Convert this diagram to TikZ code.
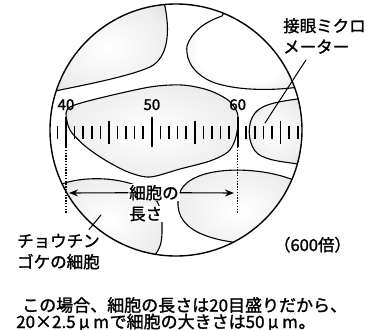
\documentclass[tikz,border=0pt]{standalone}
\usepackage{fontspec}
\setmainfont{Noto Sans CJK JP}[FakeBold=1.5]
\usetikzlibrary{arrows.meta}
\pgfdeclareradialshading{glowA}{\pgfpointorigin}{color(0bp)=(white); color(25bp)=(black!7); color(50bp)=(black!26)}
\pgfdeclareradialshading{glowB}{\pgfpointorigin}{color(0bp)=(white); color(20bp)=(white); color(50bp)=(black!26)}
\tikzset{
  rim/.style={line width=1.4pt},
  wall/.style={draw, line width=1.1pt, shading=glowA},
  tick/.style={line width=1.6pt, line cap=butt},
  guide/.style={line width=1.1pt, dash pattern=on 1.3pt off 1.5pt, line cap=butt},
  lbl/.style={inner sep=0pt, anchor=base west, font=\fontsize{16.5}{20}\selectfont},
  num/.style={inner sep=0pt, anchor=base, font=\fontsize{15}{18}\selectfont},
}
\newcommand{\fw}[1]{\makebox[1em][c]{#1}}

\begin{document}
\begin{tikzpicture}[x=1pt,y=-1pt,line join=round,line cap=round,>={Stealth[length=9pt,width=7pt]}]
\useasboundingbox (0,0) rectangle (376,330);
\def\cx{176}
\def\cy{130}
\def\rr{126pt}
\def\dx{8.585}% one division of the scale
\coordinate (O) at (\cx,\cy);
\begin{scope}
\clip (O) circle (\rr);
% cells in the field of view
\draw[wall] (45,93) .. controls (90,84) and (130,76) .. (150,67) .. controls (168,58) and (171,32) .. (164,2) -- (45,2) -- cycle;
\draw[wall, shading=glowB] (228,6) -- (222,16) .. controls (205,22) and (192,31) .. (187,46) .. controls (185,62) and (196,76) .. (215,83) .. controls (240,91) and (275,91) .. (306,86) -- (306,6) -- cycle;
\draw[wall] plot[smooth cycle] coordinates {(66,113) (72,106) (100,98) (150,87) (182,85) (208,90) (228,100) (237,112) (238,125) (235,140) (228,152) (210,161) (180,169) (150,177) (128,172) (105,160) (85,146) (70,130)};
\draw[wall] (306,98) .. controls (280,101) and (262,104) .. (255,113) .. controls (246,124) and (248,146) .. (258,154) .. controls (268,161) and (285,162) .. (306,165) -- cycle;
\draw[wall] (55,186) -- (65,183) .. controls (80,178) and (105,177) .. (125,182) .. controls (150,188) and (162,200) .. (162,222) .. controls (162,235) and (163,245) .. (155,255) -- (150,264) -- (55,264) -- cycle;
\draw[wall] (300,182) -- (288,178) .. controls (265,170) and (230,167) .. (205,174) .. controls (185,180) and (177,190) .. (178,205) .. controls (179,222) and (192,236) .. (232,242) -- (250,254) -- (300,232) -- cycle;
% micrometer scale
\foreach \n in {39,...,67}{
  \pgfmathsetmacro{\tx}{66+(\n-40)*\dx}
  \pgfmathsetmacro{\h}{ifthenelse(mod(\n,10)==0,15,ifthenelse(mod(\n,5)==0,11.5,6.5))}
  \draw[tick] (\tx,132-\h) -- (\tx,132+\h);
}
\end{scope}
\draw[rim] (O) circle (\rr);
\foreach \n in {40,50,60}{
  \node[num] (m\n) at ({66+(\n-40)*\dx},110) {\n};
}
\coordinate (top40) at (66,147);
\coordinate (bot40) at (66,213);
\coordinate (top60) at ({66+20*\dx},147);
\coordinate (bot60) at ({66+20*\dx},213);
\draw[guide] (top40) -- (bot40);
\draw[guide] (top60) -- (bot60);
% length of the cell
\node[lbl, fill=white, inner sep=1pt] (lenA) at (128,199) {細胞の};
\node[lbl, fill=white, inner sep=1pt] (lenB) at (128,220) {長さ};
\coordinate (tip40) at (69,193);
\coordinate (tip60) at (234,193);
\draw[->, line width=1.1pt] (lenA.west) -- (tip40);
\draw[->, line width=1.1pt] (lenA.east) -- (tip60);
% labels
\node[lbl] (eyeA) at (283,32) {接眼ミクロ};
\node[lbl] (eyeB) at (283,53) {メーター};
\coordinate (eyetip) at (265,123);
\draw[line width=1pt] ([shift={(23,6)}]eyeB.south west) -- (eyetip);
\node[lbl] (mossA) at (17,247) {チョウチン};
\node[lbl] (mossB) at (17,268) {ゴケの細胞};
\coordinate (mosstip) at (101,215);
\draw[line width=1pt] ([shift={(-11,-4)}]mossA.north east) -- (mosstip);
\node[lbl, anchor=base] (mag) at (312.5,251) {（600倍）};
\node[lbl, font=\fontsize{17}{20}\selectfont] (noteA) at (22,311.5) {この場合、細胞の長さは20目盛りだから、};
\node[lbl, font=\fontsize{17}{20}\selectfont] (noteB) at (16,328) {20\fw{×}2.5\fw{μ}\fw{m}で細胞の大きさは50\fw{μ}\fw{m}。};
\end{tikzpicture}
\end{document}
